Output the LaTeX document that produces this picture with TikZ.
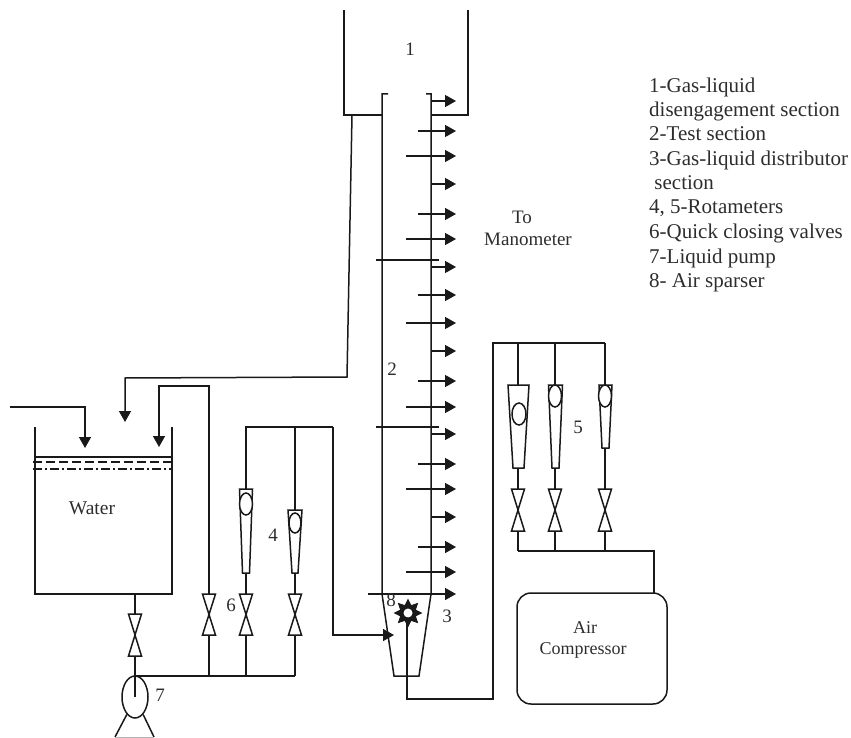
\documentclass[tikz,border=0pt]{standalone}
\usepackage{fontspec}
\setmainfont{Liberation Serif}
\usetikzlibrary{arrows.meta, positioning, shapes.geometric}
\definecolor{xInk}{RGB}{25,25,25}
\definecolor{xText}{RGB}{45,45,45}
\tikzset{
  pipe/.style={draw=xInk, line width=1.5pt},
  flow/.style={pipe, -{Triangle[length=11pt, width=12pt]}},
  tag/.style={font=\fontsize{19}{22}\selectfont, text=xText, inner sep=0pt},
  float/.style={draw=xInk, line width=1.5pt, ellipse, inner sep=0pt, fill=white},
  legendline/.style={tag, font=\fontsize{21}{24}\selectfont, anchor=base west},
}
% valve: x, top y, bottom y
\newcommand{\bowvalve}[3]{%
  \draw[pipe, fill=white, line join=miter] (#1-6.5,#2) -- (#1+6.5,#2) -- (#1-6.5,#3) -- (#1+6.5,#3) -- cycle;%
}
% rotameter: x, top y, bottom y, top half width, bottom half width
\newcommand{\rotatube}[5]{%
  \draw[pipe, fill=white] (#1-#4,#2) -- (#1+#4,#2) -- (#1+#5,#3) -- (#1-#5,#3) -- cycle;%
}
\begin{document}
\begin{tikzpicture}[x=1pt, y=-1pt]
    \useasboundingbox (0,0) rectangle (851,738);
    % disengagement section and column
    \draw[pipe] (344,10) -- (344,115) -- (382,115);
    \draw[pipe] (468,10) -- (468,115) -- (431,115);
    \draw[pipe] (388,94) -- (382,94) -- (382,594) -- (394,676) -- (419,676) -- (431,594) -- (431,94) -- (426,94);
    \draw[pipe] (376,260) -- (439,260);
    \draw[pipe] (376,427) -- (439,427);
    % manometer taps
    \foreach \y/\x in {101/431, 131/418, 156/406, 184/431, 214/418, 239/406, 267/431, 295/418,
                       323/406, 351/431, 381/418, 407/406, 434/431, 464/418, 489/406, 517/431,
                       547/418, 572/406, 594/368}
      \draw[flow] (\x,\y) -- (456,\y);
    % tank
    \draw[pipe] (35,427) -- (35,594) -- (172,594) -- (172,427);
    \draw[pipe] (35,457) -- (172,457);
    \draw[pipe, dash pattern=on 9pt off 4pt] (33,462) -- (172,462);
    \draw[pipe, dash pattern=on 9pt off 3pt on 2pt off 3pt] (33,469) -- (172,469);
    \draw[flow] (10,407) -- (85,407) -- (85,448);
    \draw[flow] (352,115) -- (347,377) -- (125,378) -- (125,422);
    % pump and liquid lines
    \node[float, minimum width=26pt, minimum height=42pt] (pump) at (135,697) {};
    \draw[pipe] (pump.north) ++(0,22) -- (135,594);
    \bowvalve{135}{614}{656}
    \draw[pipe] (115,737) -- (pump.245);
    \draw[pipe] (154,737) -- (pump.-65);
    \draw[pipe, line width=0.6pt, draw=gray!60] (115,737) -- (154,737);
    \draw[pipe] (135,676) -- (295,676);
    \draw[flow] (209,676) -- (209,386) -- (159,386) -- (159,447);
    \bowvalve{209}{594}{635}
    \draw[pipe] (246,676) -- (246,427) -- (333,427);
    \draw[pipe] (295,676) -- (295,427);
    \draw[flow] (333,427) -- (333,635) -- (394,635);
    \bowvalve{246}{594}{635}
    \bowvalve{295}{594}{635}
    \rotatube{246}{489}{573}{6.5}{3.5}
    \rotatube{295}{510}{573}{7}{3}
    \node[float, minimum width=13pt, minimum height=22pt] (f1) at (246,504) {};
    \node[float, minimum width=12pt, minimum height=20pt] (f2) at (295,523) {};
    % air lines
    \draw[pipe] (407,622) -- (407,699) -- (493,699) -- (493,343) -- (605,343);
    \draw[pipe] (518,343) -- (518,551);
    \draw[pipe] (555,343) -- (555,551);
    \draw[pipe] (605,343) -- (605,551);
    \draw[pipe] (518,551) -- (654,551) -- (654,593);
    \bowvalve{518}{489}{531}
    \bowvalve{555}{489}{531}
    \bowvalve{605}{489}{531}
    \rotatube{518.5}{385}{468}{10.5}{5.5}
    \rotatube{555.5}{385}{468}{7}{3.5}
    \rotatube{605.5}{385}{448}{6.5}{3.5}
    \node[float, minimum width=14pt, minimum height=22pt] (f3) at (519,414) {};
    \node[float, minimum width=13pt, minimum height=22pt] (f4) at (555,396) {};
    \node[float, minimum width=13pt, minimum height=22pt] (f5) at (605,396) {};
    \node[draw=xInk, line width=1.5pt, rounded corners=14pt, minimum width=150pt, minimum height=111pt,
          tag] (comp) at (592,648.5) {};
    \node[tag, font=\fontsize{18}{22}\selectfont] at (585,628) {Air};
    \node[tag, font=\fontsize{18}{22}\selectfont] at (583,650) {Compressor};
    % sparser
    \node[star, star points=8, star point ratio=1.7, draw=xInk, fill=xInk, line width=0.8pt,
          minimum size=27pt, inner sep=0pt] (spar) at (408,613) {};
    \node[circle, fill=white, minimum size=9pt, inner sep=0pt] (hole) at (spar.center) {};
    \draw[pipe] (hole.south) -- (407,622);
    % labels
    \node[tag] at (410,49) {1};
    \node[tag] at (392,369) {2};
    \node[tag] at (447,616) {3};
    \node[tag] at (273,535) {4};
    \node[tag] at (578,427) {5};
    \node[tag] at (231,605) {6};
    \node[tag] at (160,695) {7};
    \node[tag] at (391,600) {8};
    \node[tag, font=\fontsize{19.5}{22}\selectfont] at (92,508) {Water};
    \node[tag] at (522,217) {To};
    \node[tag, anchor=west] at (484,239) {Manometer};
    % legend
    \foreach \y/\t in {93/1-Gas-liquid, 117/disengagement section, 141/2-Test section,
                       166/3-Gas-liquid distributor, 190/\ section, 214/{4, 5-Rotameters},
                       238/6-Quick closing valves, 263/7-Liquid pump, 287/8- Air sparser}
      \node[legendline] at (649,\y) {\t};
  \end{tikzpicture}
\end{document}
